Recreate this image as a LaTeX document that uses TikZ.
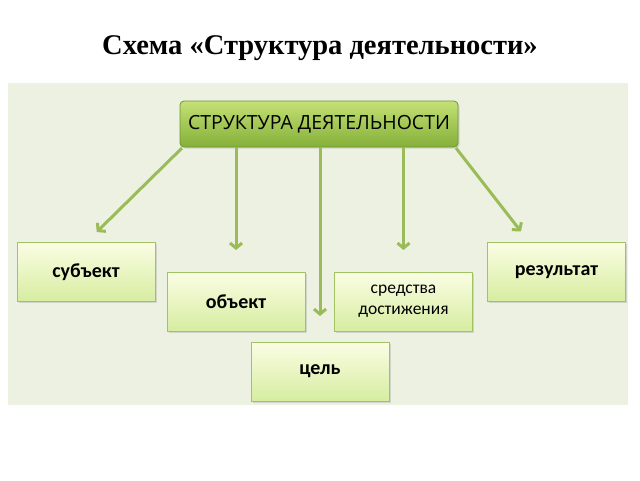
\documentclass[tikz,border=0pt]{standalone}
\usepackage{fontspec}
\setmainfont{Liberation Serif}
\newfontfamily\boxfont{Carlito}
\newfontfamily\headfont{Open Sans}
\usepackage{tikz}
\usetikzlibrary{arrows.meta, positioning, shadows}
\definecolor{panelcol}{RGB}{236,241,226}
\definecolor{arrowcol}{RGB}{155,187,89}
\definecolor{edgecol}{RGB}{160,196,100}
\definecolor{lighttop}{RGB}{251,253,228}
\definecolor{lightbot}{RGB}{214,237,160}
\definecolor{headtop}{RGB}{196,224,118}
\definecolor{headbot}{RGB}{132,176,56}

\begin{document}
\begin{tikzpicture}[
  x=1pt, y=-1pt,
  item/.style={draw=edgecol, line width=0.8pt, top color=lighttop, bottom color=lightbot,
               minimum width=138pt, minimum height=59pt, inner sep=2pt, outer sep=0pt,
               align=center, font=\boxfont\fontsize{20}{22}\selectfont\bfseries,
               drop shadow={opacity=0.25, shadow xshift=1.5pt, shadow yshift=-1.5pt}},
  head/.style={item, draw=headbot!85!black, top color=headtop, bottom color=headbot,
               minimum width=278pt, minimum height=46pt, rounded corners=4pt,
               font=\headfont\fontsize{19.5}{22}\selectfont},
  arr/.style={draw=arrowcol, line width=3pt, -{Straight Barb[length=5pt, width=12pt]}}
]
  \useasboundingbox (0,0) rectangle (640,480);
  \fill[panelcol] (8,83) rectangle (628,405);
  \node[anchor=base, font=\fontsize{28.5}{32}\selectfont\bfseries] (title) at (320,54)
    {Схема «Структура деятельности»};

  \node[head] (top) at (319,124) {СТРУКТУРА ДЕЯТЕЛЬНОСТИ};
  \node[item] (subj) at (86,272) {субъект};
  \node[item] (obj) at (236,301.5) {объект};
  \node[item, font=\boxfont\fontsize{17.5}{21}\selectfont] (means) at (403.5,301.5) {средства\\достижения};
  \node[item] (res) at (556.5,272) {результат};
  \node[item] (goal) at (320,371.5) {цель};

  \draw[arr, shorten >=15pt] ([xshift=2pt, yshift=-1pt]top.south west) -- (subj.north);
  \draw[arr, shorten >=22pt] (top.south -| obj.north) -- (obj.north);
  \draw[arr, shorten >=26pt] (top.south -| goal.north) -- (goal.north);
  \draw[arr, shorten >=22pt] (top.south -| means.north) -- (means.north);
  \draw[arr, shorten >=14pt] ([xshift=-2pt, yshift=-1pt]top.south east) -- ([xshift=-27pt]res.north);
\end{tikzpicture}
\end{document}
